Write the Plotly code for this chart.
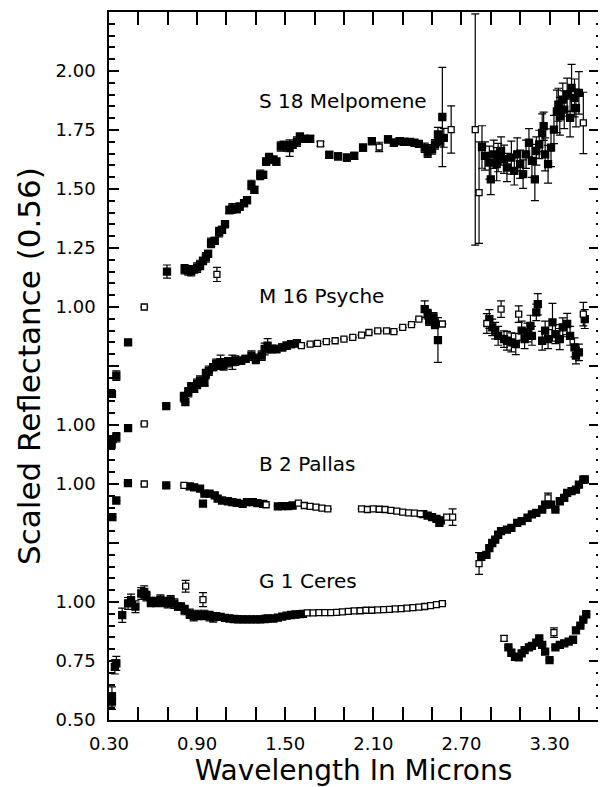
import plotly.graph_objects as go

FONT = "DejaVu Sans"

# ---------------- data (wavelength in microns, reflectance scaled to 1 at 0.56 um) ----------------
CERES_WL = [0.32, 0.32, 0.34, 0.35, 0.39, 0.43, 0.45, 0.48, 0.52, 0.54,
            0.555, 0.585, 0.62, 0.65, 0.675, 0.70, 0.72, 0.745, 0.77, 0.79,
            0.815, 0.822, 0.85, 0.877, 0.905, 0.94, 0.95, 0.985, 1.01,
            1.03, 1.06, 1.09, 1.12, 1.15, 1.18, 1.21, 1.24, 1.27, 1.30, 1.33, 1.36, 1.38,
            1.42, 1.45, 1.48, 1.51, 1.54, 1.57, 1.60, 1.62,
            1.65, 1.69, 1.73, 1.77, 1.81, 1.85, 1.89, 1.93, 1.97, 2.01, 2.05, 2.09,
            2.13, 2.17, 2.21, 2.25, 2.29, 2.33, 2.37, 2.41, 2.45, 2.49, 2.53, 2.57,
            2.99, 3.02, 3.04, 3.065, 3.09, 3.11, 3.13, 3.16, 3.18, 3.21, 3.23, 3.25,
            3.27, 3.30, 3.33, 3.34, 3.37, 3.40, 3.43, 3.46, 3.48, 3.51, 3.53, 3.55]
CERES_R = [0.60, 0.58, 0.725, 0.74, 0.944, 0.994, 1.008, 0.98, 1.036, 1.043,
           1.025, 1.0, 1.0, 1.01, 1.0, 0.995, 1.007, 0.993, 0.98, 0.98,
           0.966, 1.067, 0.95, 0.94, 0.945, 1.01, 0.945, 0.94, 0.935,
           0.94, 0.937, 0.933, 0.93, 0.928, 0.927, 0.926, 0.926, 0.926, 0.926, 0.926, 0.928, 0.93,
           0.93, 0.934, 0.938, 0.942, 0.945, 0.947, 0.949, 0.95,
           0.954, 0.954, 0.955, 0.955, 0.955, 0.956, 0.958, 0.960, 0.962, 0.963, 0.965, 0.965,
           0.967, 0.968, 0.969, 0.971, 0.972, 0.974, 0.976, 0.978, 0.981, 0.985, 0.989, 0.993,
           0.846, 0.808, 0.785, 0.768, 0.765, 0.782, 0.796, 0.808, 0.814, 0.828, 0.846, 0.818,
           0.79, 0.754, 0.87, 0.808, 0.818, 0.825, 0.832, 0.84, 0.88, 0.90, 0.925, 0.948]
CERES_ERR = [0.04, 0.035, 0.03, 0.03, 0.03, 0.025, 0.025, 0.025, 0.025, 0.025,
             0.02, 0.02, 0.02, 0.02, 0.02, 0.02, 0.02, 0.02, 0.015, 0.015,
             0.02, 0.025, 0.02, 0.02, 0.02, 0.03, 0.02, 0.02, 0.02,
             0, 0, 0, 0, 0, 0, 0, 0, 0, 0, 0, 0, 0,
             0, 0, 0, 0, 0, 0, 0, 0,
             0, 0, 0, 0, 0, 0, 0, 0, 0, 0, 0, 0,
             0, 0, 0, 0, 0, 0, 0, 0, 0, 0, 0, 0,
             0.012, 0, 0, 0, 0, 0, 0, 0, 0, 0, 0, 0,
             0, 0, 0.02, 0, 0, 0, 0, 0, 0, 0, 0, 0]
CERES_OPEN = [0.822, 0.94, 1.65, 1.69, 1.73, 1.77, 1.81, 1.85, 1.89, 1.93, 1.97, 2.01, 2.05,
              2.09, 2.13, 2.17, 2.21, 2.25, 2.29, 2.33, 2.37, 2.41, 2.45, 2.49, 2.53, 2.57,
              2.99, 3.33]

PALLAS_WL = [0.323, 0.35, 0.429, 0.54, 0.69, 0.81, 0.85, 0.88, 0.92, 0.94,
             0.95, 0.985, 1.02, 1.04, 1.07, 1.11, 1.14, 1.17, 1.21, 1.24,
             1.28, 1.31, 1.35, 1.37, 1.45, 1.48, 1.52, 1.55, 1.59, 1.63,
             1.67, 1.71, 1.75, 1.79,
             2.02, 2.06, 2.10, 2.14, 2.18, 2.22, 2.26, 2.30, 2.34, 2.38,
             2.42, 2.44, 2.47, 2.50, 2.53, 2.55, 2.56, 2.60, 2.64,
             2.82, 2.835, 2.87, 2.89, 2.91, 2.93, 2.95, 2.97, 3.01, 3.04,
             3.08, 3.11, 3.15, 3.18, 3.21, 3.25, 3.27, 3.29, 3.31, 3.34,
             3.37, 3.40, 3.42, 3.45, 3.48, 3.50, 3.53, 3.54]
PALLAS_R = [0.86, 0.93, 1.004, 1.0, 0.994, 0.994, 0.99, 0.986, 0.98, 0.917,
            0.959, 0.959, 0.952, 0.938, 0.93, 0.927, 0.923, 0.92, 0.916, 0.923,
            0.923, 0.919, 0.916, 0.912, 0.905, 0.906, 0.906, 0.909, 0.919, 0.909,
            0.905, 0.902, 0.898, 0.895,
            0.895, 0.892, 0.895, 0.893, 0.892, 0.888, 0.885, 0.881, 0.878, 0.877,
            0.874, 0.872, 0.866, 0.86, 0.852, 0.835, 0.846, 0.86, 0.86,
            0.663, 0.691, 0.70, 0.728, 0.75, 0.764, 0.785, 0.80, 0.807, 0.814,
            0.835, 0.843, 0.857, 0.871, 0.878, 0.892, 0.913, 0.941, 0.913, 0.892,
            0.927, 0.941, 0.962, 0.97, 0.976, 0.997, 1.018, 1.02]
PALLAS_ERR = [0, 0, 0, 0, 0, 0, 0, 0, 0, 0,
              0, 0, 0, 0, 0, 0, 0, 0, 0, 0,
              0, 0, 0, 0, 0, 0, 0, 0, 0, 0,
              0, 0, 0, 0,
              0, 0, 0, 0, 0, 0, 0, 0, 0, 0,
              0, 0, 0, 0, 0, 0, 0, 0, 0.035,
              0.046, 0, 0, 0, 0, 0, 0, 0, 0, 0,
              0, 0, 0, 0, 0, 0, 0, 0.02, 0, 0,
              0, 0, 0, 0, 0, 0, 0, 0]
PALLAS_OPEN = [0.54, 0.81, 1.37, 1.59, 1.63, 1.67, 1.71, 1.75, 1.79,
               2.02, 2.06, 2.10, 2.14, 2.18, 2.22, 2.26, 2.30, 2.34, 2.38, 2.42,
               2.60, 2.64, 2.82, 3.29]

PSYCHE_WL = [0.318, 0.325, 0.35, 0.43, 0.54, 0.69, 0.81, 0.82, 0.84, 0.86,
             0.88, 0.90, 0.92, 0.95, 0.96, 0.98, 1.01, 1.03, 1.06, 1.08,
             1.11, 1.14, 1.16, 1.20, 1.23, 1.27, 1.30, 1.34, 1.36, 1.38,
             1.41, 1.44, 1.48, 1.51, 1.54, 1.58, 1.61, 1.67, 1.72, 1.78,
             1.84, 1.90, 1.96, 2.02, 2.07, 2.13, 2.19, 2.24, 2.30, 2.36,
             2.41, 2.45, 2.47, 2.48, 2.51, 2.52, 2.54, 2.57,
             2.873, 2.89, 2.91, 2.93, 2.95, 2.97, 2.99, 3.01, 3.04, 3.07,
             3.09, 3.11, 3.13, 3.15, 3.17, 3.18, 3.21, 3.22, 3.25, 3.27,
             3.29, 3.32, 3.34, 3.37, 3.39, 3.42, 3.44, 3.47, 3.48, 3.50,
             3.53, 3.54]
PSYCHE_R = [0.92, 0.94, 0.948, 0.987, 1.005, 1.08, 1.118, 1.097, 1.139, 1.16,
            1.153, 1.174, 1.188, 1.18, 1.216, 1.23, 1.245, 1.259, 1.266, 1.252,
            1.266, 1.266, 1.273, 1.273, 1.28, 1.294, 1.28, 1.294, 1.322, 1.336,
            1.322, 1.322, 1.329, 1.336, 1.343, 1.346, 1.336, 1.343, 1.346, 1.353,
            1.357, 1.364, 1.371, 1.381, 1.392, 1.399, 1.399, 1.396, 1.414, 1.425,
            1.449, 1.491, 1.47, 1.442, 1.456, 1.428, 1.36, 1.428,
            1.43, 1.449, 1.414, 1.40, 1.378, 1.491, 1.364, 1.357, 1.35, 1.343,
            1.47, 1.40, 1.364, 1.392, 1.42, 1.378, 1.477, 1.512, 1.357, 1.40,
            1.364, 1.435, 1.385, 1.364, 1.414, 1.428, 1.378, 1.329, 1.294, 1.308,
            1.47, 1.449]
PSYCHE_ERR = [0.02, 0, 0.02, 0, 0, 0, 0.02, 0, 0.02, 0.02,
              0.015, 0.02, 0.02, 0.015, 0.02, 0.02, 0.015, 0.02, 0.03, 0.02,
              0.02, 0.03, 0.02, 0.015, 0.015, 0.02, 0.02, 0.02, 0.025, 0.03,
              0.015, 0.015, 0.015, 0.015, 0.015, 0.015, 0, 0, 0, 0,
              0, 0, 0, 0, 0, 0, 0, 0, 0, 0,
              0, 0.035, 0.02, 0.02, 0.02, 0.02, 0.095, 0,
              0.042, 0.04, 0.035, 0.035, 0.04, 0.035, 0.035, 0.04, 0.04, 0.045,
              0.035, 0.04, 0.04, 0.04, 0.045, 0.04, 0.035, 0.045, 0.04, 0.04,
              0.04, 0.08, 0.04, 0.045, 0.04, 0.045, 0.04, 0.04, 0.035, 0.035,
              0.05, 0.04]
PSYCHE_OPEN = [0.54, 1.61, 1.67, 1.72, 1.78, 1.84, 1.90, 1.96, 2.02, 2.07, 2.13, 2.19,
               2.24, 2.30, 2.36, 2.41, 2.57, 2.873, 2.97, 3.09, 3.53]

MELPOMENE_WL = [0.32, 0.35, 0.43, 0.54, 0.695, 0.815, 0.84, 0.86, 0.88, 0.90,
                0.92, 0.94, 0.96, 0.975, 0.995, 1.02, 1.035, 1.05, 1.07, 1.09,
                1.12, 1.14, 1.17, 1.19, 1.22, 1.24, 1.27, 1.29, 1.33, 1.35,
                1.37, 1.39, 1.42, 1.44, 1.47, 1.49, 1.51, 1.53, 1.55, 1.58,
                1.60, 1.63, 1.67, 1.74, 1.80, 1.86, 1.92, 1.97, 2.03, 2.09,
                2.14, 2.20, 2.24, 2.28, 2.31, 2.35, 2.38, 2.41, 2.45, 2.47,
                2.50, 2.52, 2.54, 2.55, 2.57, 2.58, 2.63,
                2.794, 2.82, 2.84, 2.86, 2.89, 2.90, 2.92, 2.94, 2.95, 2.97,
                2.99, 3.01, 3.04, 3.06, 3.08, 3.10, 3.12, 3.14, 3.16, 3.18,
                3.20, 3.21, 3.23, 3.25, 3.26, 3.27, 3.29, 3.31, 3.33, 3.35,
                3.36, 3.37, 3.39, 3.40, 3.42, 3.44, 3.45, 3.47, 3.48, 3.50,
                3.53]
MELPOMENE_R = [0.632, 0.709, 0.85, 1.0, 1.15, 1.16, 1.155, 1.152, 1.16, 1.167,
               1.178, 1.195, 1.21, 1.225, 1.272, 1.28, 1.138, 1.317, 1.327, 1.351,
               1.411, 1.418, 1.415, 1.425, 1.44, 1.453, 1.517, 1.496, 1.56, 1.56,
               1.616, 1.631, 1.624, 1.616, 1.68, 1.687, 1.68, 1.673, 1.687, 1.701,
               1.722, 1.712, 1.712, 1.691, 1.645, 1.638, 1.633, 1.64, 1.675, 1.703,
               1.678, 1.71, 1.696, 1.703, 1.70, 1.70, 1.696, 1.691, 1.675, 1.654,
               1.668, 1.689, 1.731, 1.703, 1.805, 1.717, 1.752,
               1.752, 1.485, 1.678, 1.64, 1.612, 1.541, 1.647, 1.605, 1.633, 1.661,
               1.626, 1.591, 1.633, 1.577, 1.647, 1.605, 1.563, 1.647, 1.696, 1.619,
               1.541, 1.661, 1.689, 1.738, 1.766, 1.647, 1.605, 1.675, 1.752, 1.829,
               1.857, 1.808, 1.879, 1.836, 1.90, 1.801, 1.928, 1.886, 1.843, 1.907,
               1.78]
MELPOMENE_ERR = [0, 0.02, 0, 0, 0.028, 0.02, 0.02, 0.02, 0.015, 0.02,
                 0.02, 0.015, 0.02, 0.015, 0.02, 0.015, 0.03, 0.02, 0.015, 0.015,
                 0.015, 0.02, 0.015, 0.015, 0.015, 0.015, 0.02, 0.015, 0.02, 0.015,
                 0.015, 0.02, 0.015, 0.015, 0.02, 0.015, 0.02, 0.035, 0.015, 0.02,
                 0.015, 0.015, 0.015, 0.01, 0.015, 0.015, 0.015, 0.015, 0.015, 0.015,
                 0.02, 0.015, 0.015, 0.015, 0.015, 0.01, 0.01, 0.01, 0.02, 0.02,
                 0.02, 0.02, 0.03, 0.02, 0.21, 0.04, 0.1,
                 0.49, 0.215, 0.09, 0.06, 0.07, 0.065, 0.06, 0.07, 0.06, 0.06,
                 0.06, 0.06, 0.07, 0.06, 0.07, 0.06, 0.06, 0.06, 0.06, 0.07,
                 0.09, 0.06, 0.06, 0.08, 0.06, 0.07, 0.08, 0.08, 0.06, 0.09,
                 0.07, 0.08, 0.07, 0.08, 0.07, 0.08, 0.1, 0.08, 0.08, 0.09,
                 0.13]
MELPOMENE_OPEN = [0.54, 1.035, 1.74, 2.14, 2.63, 2.794, 2.82, 3.53]

ASTEROIDS = ["G 1 Ceres", "B 2 Pallas", "M 16 Psyche", "S 18 Melpomene"]
OFFSETS = [0.0, 0.5, 0.75, 1.25]          # vertical shift of each spectrum
LABEL_Y = [1.09, 1.585, 2.297, 3.123]      # label heights (plot units)

Y_TICKVALS = [0.5, 0.75, 1.0, 1.25, 1.5, 1.75, 2.0, 2.25, 2.5, 2.75, 3.0, 3.25]
Y_TICKTEXT = ["0.50", "0.75", "1.00", "", "1.00", "1.00", "", "1.00", "1.25", "1.50", "1.75", "2.00"]
X_TICKVALS = [0.3, 0.9, 1.5, 2.1, 2.7, 3.3]
X_TICKTEXT = ["0.30", "0.90", "1.50", "2.10", "2.70", "3.30"]

SERIES = [
    (CERES_WL, CERES_R, CERES_ERR, CERES_OPEN),
    (PALLAS_WL, PALLAS_R, PALLAS_ERR, PALLAS_OPEN),
    (PSYCHE_WL, PSYCHE_R, PSYCHE_ERR, PSYCHE_OPEN),
    (MELPOMENE_WL, MELPOMENE_R, MELPOMENE_ERR, MELPOMENE_OPEN),
]

fig = go.Figure()

for name, off, (wl, r, err, opn) in zip(ASTEROIDS, OFFSETS, SERIES):
    assert len(wl) == len(r) == len(err), name
    for is_open in (False, True):
        idx = [i for i in range(len(wl)) if (wl[i] in opn) == is_open]
        xs = [wl[i] for i in idx]
        ys = [r[i] + off for i in idx]
        es = [err[i] if err[i] > 0 else None for i in idx]
        fig.add_trace(go.Scatter(
            x=xs, y=ys, mode="markers", name=name, showlegend=False,
            marker=dict(symbol="square", size=6 if is_open else 7,
                        color="white" if is_open else "black",
                        line=dict(color="black", width=1.3)),
            error_y=dict(type="data", array=es, visible=True, color="black",
                         thickness=1.2, width=4),
            cliponaxis=True,
        ))

# empty trace to activate the right-hand tick axis
fig.add_trace(go.Scatter(x=[], y=[], yaxis="y2", showlegend=False, hoverinfo="skip"))

for name, yl in zip(ASTEROIDS, LABEL_Y):
    fig.add_annotation(x=1.31, y=yl, text=name, showarrow=False, xanchor="left",
                       yanchor="middle", font=dict(family=FONT, size=20, color="black"))

fig.update_layout(
    width=603, height=787,
    margin=dict(l=109, r=5, t=12, b=67, autoexpand=False),
    paper_bgcolor="white", plot_bgcolor="white",
    font=dict(family=FONT, color="black"),
    xaxis=dict(
        range=[0.3, 3.63], tickmode="array", tickvals=X_TICKVALS, ticktext=X_TICKTEXT,
        ticks="inside", ticklen=13, tickwidth=1.5, tickcolor="black",
        minor=dict(tickmode="linear", tick0=0.3, dtick=0.2, ticks="inside", ticklen=7,
                   tickwidth=1.5, tickcolor="black", showgrid=False),
        showline=True, linecolor="black", linewidth=1.5, mirror="allticks",
        showgrid=False, zeroline=False, automargin=False,
        tickfont=dict(family=FONT, size=18, color="black"), ticklabelstandoff=7,
        title=dict(text="Wavelength In Microns", font=dict(family=FONT, size=28, color="black"),
                   standoff=13),
    ),
    yaxis=dict(
        range=[0.5, 3.5], tickmode="array", tickvals=Y_TICKVALS, ticktext=Y_TICKTEXT,
        ticks="inside", ticklen=10, tickwidth=1.5, tickcolor="black",
        minor=dict(tickmode="linear", tick0=0.5, dtick=0.05, ticks="inside", ticklen=6,
                   tickwidth=1.5, tickcolor="black", showgrid=False),
        showline=True, linecolor="black", linewidth=1.5,
        showgrid=False, zeroline=False, automargin=False,
        tickfont=dict(family=FONT, size=18, color="black"), ticklabelstandoff=8,
        title=dict(text="Scaled Reflectance (0.56)", font=dict(family=FONT, size=31, color="black"),
                   standoff=6),
    ),
    yaxis2=dict(
        range=[0.5, 3.5], overlaying="y", side="right", anchor="x",
        tickmode="array", tickvals=Y_TICKVALS, showticklabels=False,
        ticks="inside", ticklen=9, tickwidth=1.5, tickcolor="black",
        minor=dict(tickmode="linear", tick0=0.5, dtick=0.05, ticks="inside", ticklen=2,
                   tickwidth=1.5, tickcolor="black", showgrid=False),
        showline=False, showgrid=False, zeroline=False, automargin=False,
    ),
)

fig.write_html("out.html")
